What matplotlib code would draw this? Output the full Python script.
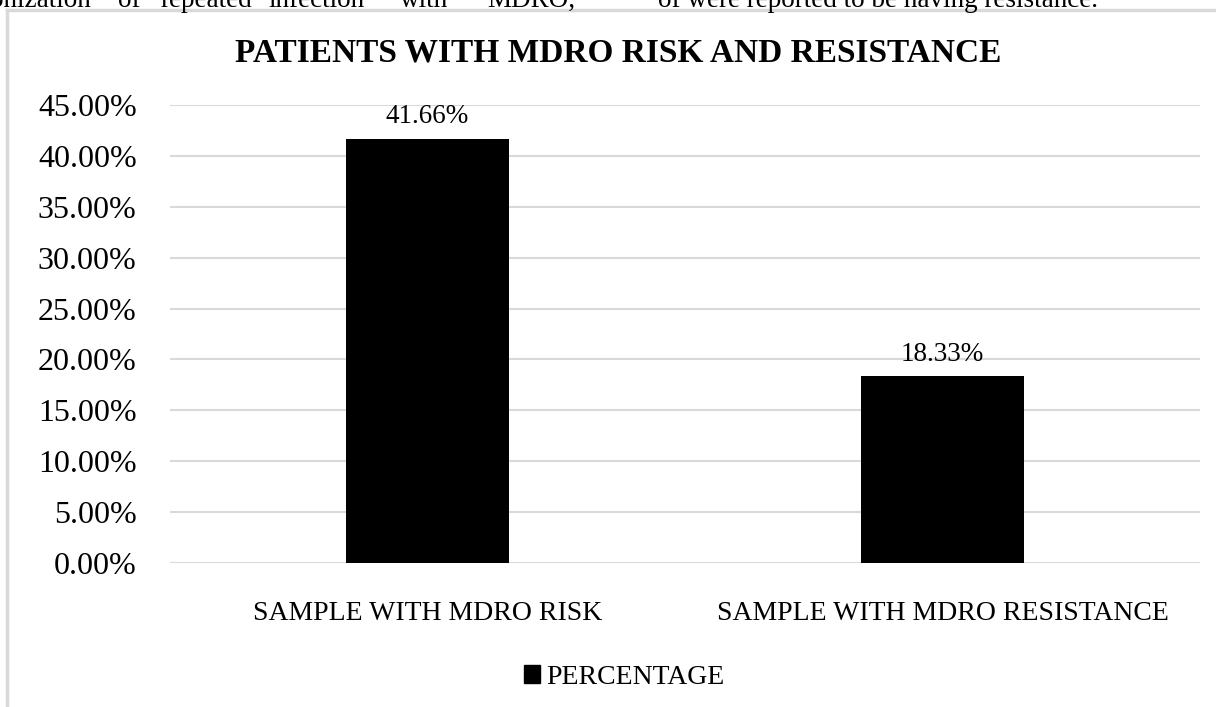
import matplotlib
matplotlib.use("Agg")
import matplotlib.pyplot as plt
from matplotlib.patches import Patch
from matplotlib.lines import Line2D

categories = ["SAMPLE WITH MDRO RISK", "SAMPLE WITH MDRO RESISTANCE"]
percentages = [41.66, 18.33]
value_labels = ["41.66%", "18.33%"]
yticks = [0, 5, 10, 15, 20, 25, 30, 35, 40, 45]
series_name = "PERCENTAGE"
title = "PATIENTS WITH MDRO RISK AND RESISTANCE"

W, H = 1216, 707
plt.rcParams['font.family'] = ['Liberation Serif', 'DejaVu Serif']

fig = plt.figure(figsize=(W / 100, H / 100), dpi=100)
fig.patch.set_facecolor('white')

# document text cut off at the top
words = [("onization", -10), ("of", 118), ("repeated", 160), ("infection", 268),
         ("with", 400), ("MDRO,", 487), ("of were reported to be having resistance.", 658)]
for w, xp in words:
    fig.text(xp / W, 1 - 7 / H, w, fontsize=19.5, ha='left', va='baseline', color='black')

# chart frame
frame_col = '#d9d9d9'
fig.add_artist(Line2D([7 / W, 1.0], [1 - 10 / H, 1 - 10 / H], transform=fig.transFigure,
                      color=frame_col, lw=2.5))
fig.add_artist(Line2D([7 / W, 7 / W], [0, 1 - 10 / H], transform=fig.transFigure,
                      color=frame_col, lw=2.5))

ax = fig.add_axes([170 / W, 1 - 563 / H, (1200 - 170) / W, (563 - 105) / H])
x = list(range(len(categories)))
bars = ax.bar(x, percentages, width=0.317, color='black', zorder=3)
ax.set_xlim(-0.5, len(categories) - 0.5)
ax.set_ylim(0, 45)
ax.set_yticks(yticks)
ax.set_yticklabels([f"{v:.2f}%" for v in yticks], fontsize=23)
ax.set_xticks(x)
ax.set_xticklabels(categories, fontsize=20)
ax.tick_params(axis='both', length=0)
ax.tick_params(axis='y', pad=24)
ax.tick_params(axis='x', pad=27)
for s in ax.spines.values():
    s.set_visible(False)
ax.grid(axis='y', color='#d9d9d9', lw=1.5, zorder=0)

for b, lab in zip(bars, value_labels):
    ax.annotate(lab, (b.get_x() + b.get_width() / 2, b.get_height()),
                xytext=(0, 7), textcoords='offset points', ha='center', va='bottom',
                fontsize=19.5)

fig.text(618 / W, 1 - 62 / H, title, fontsize=24, fontweight='bold', ha='center', va='baseline')

leg = fig.legend(handles=[Patch(facecolor='black', edgecolor='black', label=series_name)],
                 loc='center', bbox_to_anchor=(624 / W, 1 - 677 / H), frameon=False,
                 fontsize=20, handlelength=0.6, handleheight=0.6, handletextpad=0.2)

fig.savefig("out.png", dpi=100, facecolor='white')
